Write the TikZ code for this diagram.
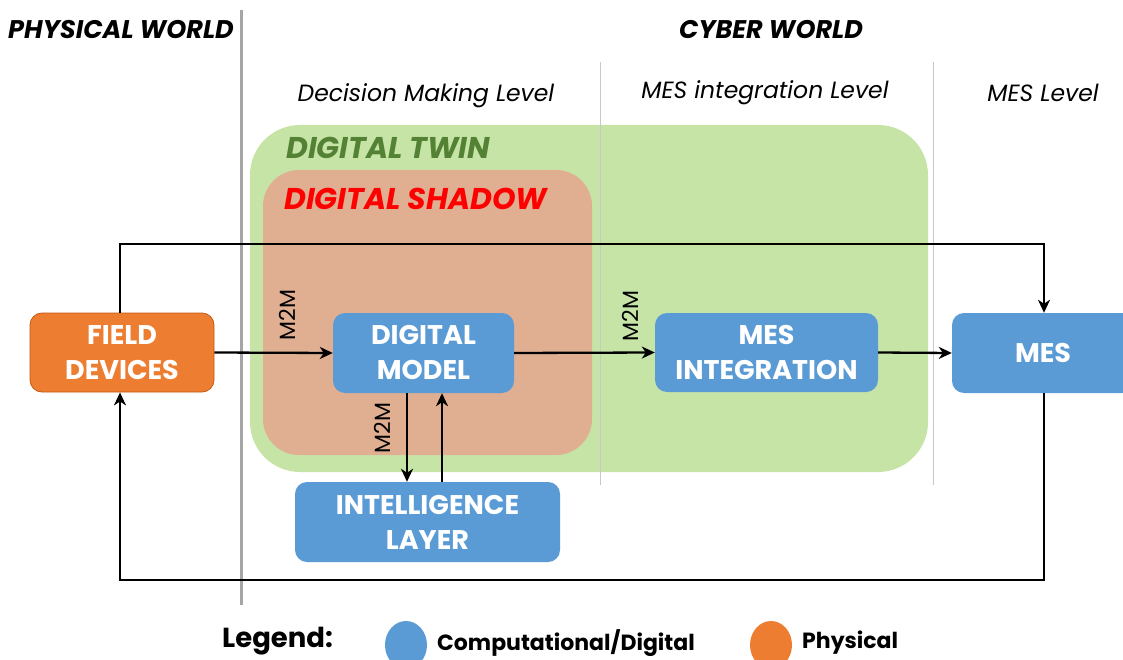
\documentclass[tikz,border=0pt]{standalone}
\usepackage{fontspec}
\setmainfont{Poppins}
\usetikzlibrary{arrows.meta,calc}
\definecolor{bgreen}{RGB}{199,228,167}
\definecolor{salmon}{RGB}{224,174,145}
\definecolor{cblue}{RGB}{91,155,213}
\definecolor{corange}{RGB}{237,125,49}
\definecolor{corangedk}{RGB}{197,90,17}
\definecolor{dgreen}{RGB}{84,130,53}
\definecolor{lgray}{RGB}{200,200,200}
\definecolor{mgray}{RGB}{166,166,166}
\tikzset{
  box/.style={rectangle, rounded corners=12pt, fill=cblue, text=white, align=center,
    font=\fontsize{27}{35}\selectfont\bfseries, inner sep=0pt},
  physbox/.style={box, fill=corange, draw=corangedk, line width=0.8pt},
  arr/.style={line width=2.3pt, draw=black, -{Stealth[length=13pt,width=12pt,inset=4pt]}},
  m2m/.style={rotate=90, font=\fontsize{22}{22}\selectfont, inner sep=0pt},
  lvl/.style={font=\fontsize{23.5}{23.5}\selectfont\itshape, inner sep=0pt},
  world/.style={font=\fontsize{25.5}{25.5}\selectfont\bfseries\itshape, inner sep=0pt},
  grp/.style={font=\fontsize{30}{30}\selectfont\bfseries\itshape, inner sep=0pt, anchor=west},
  legtext/.style={font=\fontsize{22}{22}\selectfont\bfseries, inner sep=0pt, anchor=west},
}
\begin{document}
\begin{tikzpicture}[x=1pt,y=-1pt]
\useasboundingbox (0,0) rectangle (1123,660);
\clip (0,0) rectangle (1123,660);
\fill[white] (0,0) rectangle (1123,660);
% group backgrounds
\fill[bgreen, rounded corners=50pt] (250,125) rectangle (928,472);
\fill[salmon, rounded corners=36pt] (263,170) rectangle (592,455);
% separators
\draw[lgray, line width=1pt] (600,62) -- (600,485);
\draw[lgray, line width=1pt] (933,62) -- (933,485);
\draw[mgray, line width=3pt] (241,10) -- (241,605);
% titles
\node[world] (pw) at (121,30) {PHYSICAL WORLD};
\node[world] (cw) at (771,30) {CYBER WORLD};
\node[lvl] (l1) at (426,96) {Decision Making Level};
\node[lvl] (l2) at (765,93) {MES integration Level};
\node[lvl] (l3) at (1043,93) {MES Level};
\node[grp, text=dgreen] (dt) at (286,148) {DIGITAL TWIN};
\node[grp, text=red] (ds) at (284,199) {DIGITAL SHADOW};
% boxes
\node[physbox, minimum width=184pt, minimum height=79pt] (fd) at (122,352.5) {FIELD\\DEVICES};
\node[box, minimum width=181pt, minimum height=80pt] (dm) at (423.5,353) {DIGITAL\\MODEL};
\node[box, minimum width=223pt, minimum height=79pt] (mi) at (766.5,352.5) {MES\\INTEGRATION};
\node[box, minimum width=182pt, minimum height=80pt] (mes) at (1043,353) {MES};
\node[box, minimum width=265pt, minimum height=80pt] (il) at (427.5,522) {INTELLIGENCE\\LAYER};
% connectors
\coordinate (topy) at (0,244);
\coordinate (boty) at (0,580);
\draw[arr] ([xshift=-2pt]fd.north) -- ([xshift=-2pt]fd.north |- topy) -| ([xshift=1pt]mes.north);
\draw[arr] ([xshift=1pt]mes.south) -- ([xshift=1pt]mes.south |- boty) -| ([xshift=-2pt]fd.south);
\draw[arr] (fd.east) -- (dm.west);
\draw[arr] (dm.east) -- (mi.west);
\draw[arr] (mi.east) -- (mes.west);
\draw[arr] ([xshift=-16.5pt]dm.south) -- ([xshift=-16.5pt]dm.south |- il.north);
\draw[arr] ([xshift=18.5pt]dm.south |- il.north) -- ([xshift=18.5pt]dm.south);
% M2M labels
\node[m2m] (m1) at (287,315) {M2M};
\node[m2m] (m2) at (630,316) {M2M};
\node[m2m] (m3) at (382,428) {M2M};
% legend
\node[font=\fontsize{27.5}{27.5}\selectfont\bfseries, inner sep=0pt, anchor=west] (lg) at (222,641) {Legend:};
\fill[cblue] (406,645) ellipse (21pt and 24pt);
\node[legtext] (lc) at (437,643) {Computational/Digital};
\fill[corange] (771,645) ellipse (21pt and 24pt);
\node[legtext] (lp) at (802,643) {Physical};
\end{tikzpicture}
\end{document}
